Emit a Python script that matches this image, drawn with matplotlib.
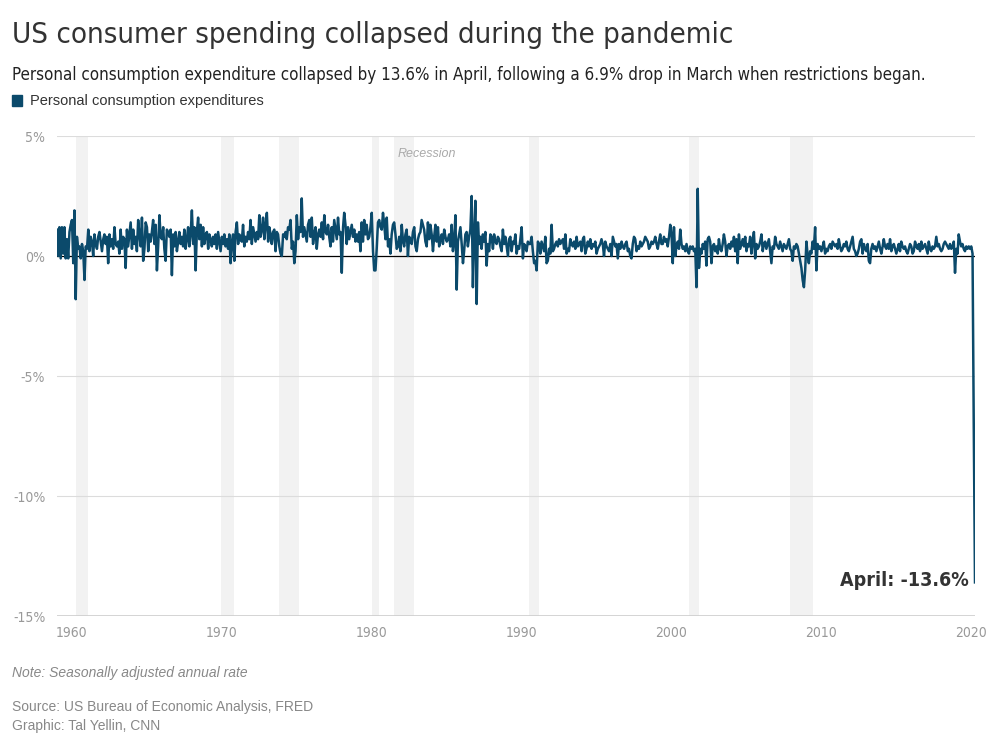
import numpy as np
import pandas as pd
import matplotlib
matplotlib.use('Agg')
import matplotlib.pyplot as plt

# monthly % change in personal consumption expenditures
pce_1959_1969 = [
    1.1, 0.0, 1.2, -0.1, 1.2, 0.1, 1.2, -0.1, 0.7, -0.1, 1.0, 1.3,   # 1959
    1.5, -0.3, 1.9, -1.8, 0.8, 0.3, 0.4, -0.1, 0.5, 0.2, -1.0, 0.4,  # 1960
    0.3, 1.1, 0.2, 0.8, 0.6, 0.0, 0.9, 0.5, 0.3, 0.8, 1.0, 0.6,      # 1961
    0.2, 0.7, 0.9, 0.5, 0.8, -0.3, 0.9, 0.4, 0.7, 0.3, 1.2, 0.5,     # 1962
    0.4, 0.6, 0.1, 1.1, 0.3, 0.8, 0.7, -0.5, 1.1, 0.4, 0.9, 1.4,     # 1963
    0.3, 1.1, 0.5, 0.8, 0.2, 1.5, 0.9, 0.4, 1.6, -0.2, 0.3, 1.4,     # 1964
    1.2, 0.2, 0.9, 0.6, 1.0, 1.5, 0.5, 1.3, -0.6, 0.4, 1.7, 0.8,     # 1965
    0.7, 1.2, 0.3, -0.2, 1.1, 1.0, 0.8, 1.1, -0.8, 0.9, 0.4, 1.0,    # 1966
    0.2, 0.6, 1.0, 0.5, 0.8, 0.4, 1.1, 0.3, 0.7, 1.2, 0.4, 0.9,      # 1967
    1.9, 0.5, 1.2, -0.6, 1.0, 1.6, 0.7, 1.3, 0.4, 1.2, 0.5, 0.9,     # 1968
    1.0, 0.3, 0.9, 0.7, 0.4, 0.8, 0.5, 0.9, 0.3, 1.0, 0.6, 0.2,      # 1969
]
pce_1970_1979 = [
    0.8, 0.5, 0.9, 0.4, 0.7, 0.3, 0.9, -0.3, 0.6, 0.9, -0.2, 1.0,    # 1970
    1.4, 0.5, 0.9, 0.7, 0.6, 1.3, 0.4, 0.8, 0.6, 1.0, 0.7, 1.5,      # 1971
    0.5, 1.2, 0.9, 0.6, 1.0, 0.7, 1.7, 0.8, 1.1, 1.6, 0.7, 1.3,      # 1972
    1.8, 0.6, 1.2, 0.9, 0.5, 1.0, 1.1, 0.2, 1.0, 0.9, 0.4, 0.1,      # 1973
    0.0, 0.9, 0.8, 1.0, 0.7, 1.2, 1.1, 1.5, 0.3, 0.6, -0.3, 0.2,     # 1974
    1.7, 0.7, 1.2, 1.0, 2.4, 0.8, 1.2, 0.9, 0.6, 1.3, 1.5, 0.8,      # 1975
    1.6, 0.5, 0.9, 1.2, 0.3, 0.9, 1.1, 0.8, 1.4, 0.7, 1.7, 1.0,      # 1976
    0.9, 1.3, 0.8, 0.4, 1.2, 0.6, 1.5, 1.1, 0.7, 1.6, 0.9, 1.0,      # 1977
    -0.7, 1.2, 1.8, 1.3, 0.5, 1.2, 0.7, 1.0, 1.3, 0.8, 1.1, 0.6,     # 1978
    0.9, 0.6, 1.0, 0.2, 1.4, 0.6, 1.5, 0.9, 1.3, 0.7, 0.8, 1.2,      # 1979
]
pce_1980_1989 = [
    1.8, 0.2, -0.6, -0.6, 0.3, 1.4, 1.5, 1.2, 1.1, 1.8, 1.3, 0.7,    # 1980
    1.6, 0.4, 0.7, 0.1, 0.9, 1.3, 1.4, 0.9, 0.3, 0.4, 0.8, 0.2,      # 1981
    1.3, 0.6, 0.4, 0.9, 1.1, 0.0, 0.8, 0.7, 0.5, 1.0, 1.2, 0.4,      # 1982
    0.2, 0.7, 0.9, 1.0, 1.5, 1.3, 1.1, 0.6, 0.4, 1.4, 0.7, 1.3,      # 1983
    0.9, 0.2, 0.8, 1.3, 0.6, 1.2, 0.4, 0.7, 0.9, 0.5, 1.1, 0.8,      # 1984
    0.6, 0.7, 0.9, 0.4, 1.3, 0.2, 0.6, 1.7, -1.4, 0.6, 0.9, 1.2,     # 1985
    0.5, -0.3, 0.2, 0.9, 1.0, 0.4, 0.8, 1.1, 2.5, -1.3, 0.9, 2.3,    # 1986
    -2.0, 1.4, 0.5, 0.8, 0.3, 0.9, 0.6, 1.0, -0.4, 0.5, 0.2, 0.9,    # 1987
    0.8, 0.3, 0.9, 0.6, 0.5, 0.8, 0.7, 0.4, 0.2, 1.1, 0.5, 0.8,      # 1988
    0.4, 0.0, 0.7, 0.8, 0.2, 0.6, 0.5, 0.9, 0.1, 0.4, 0.3, 0.7,      # 1989
]
pce_1990_1999 = [
    1.2, -0.1, 0.5, 0.4, 0.2, 0.6, 0.5, 0.5, 0.8, 0.2, -0.3, -0.2,   # 1990
    -0.6, 0.6, 0.5, 0.1, 0.6, 0.4, 0.2, 0.8, -0.3, -0.2, 0.3, 0.1,   # 1991
    1.3, 0.2, 0.3, 0.5, 0.6, 0.4, 0.7, 0.5, 0.6, 0.7, 0.3, 0.9,      # 1992
    0.1, 0.3, 0.2, 0.7, 0.5, 0.4, 0.6, 0.3, 0.8, 0.4, 0.5, 0.6,      # 1993
    0.2, 0.7, 0.8, 0.1, 0.3, 0.6, 0.4, 0.7, 0.3, 0.5, 0.4, 0.6,      # 1994
    0.1, 0.3, 0.4, 0.5, 0.7, 0.5, 0.0, 0.6, 0.4, 0.3, 0.2, 0.5,      # 1995
    0.0, 0.8, 0.6, 0.4, 0.5, -0.1, 0.5, 0.3, 0.6, 0.4, 0.3, 0.5,     # 1996
    0.6, 0.2, 0.3, 0.0, -0.1, 0.5, 0.8, 0.7, 0.2, 0.4, 0.3, 0.6,     # 1997
    0.4, 0.5, 0.6, 0.8, 0.7, 0.6, 0.3, 0.4, 0.6, 0.5, 0.6, 0.8,      # 1998
    0.5, 0.3, 0.6, 0.9, 0.5, 0.5, 0.8, 0.6, 0.7, 0.4, 0.8, 1.3,      # 1999
]
pce_2000_2009 = [
    0.9, -0.3, 1.2, 0.0, 0.4, 0.6, 0.3, 1.1, 0.5, 0.3, 0.4, 0.2,     # 2000
    0.5, 0.2, 0.1, 0.4, 0.3, 0.4, 0.2, 0.3, -1.3, 2.8, -0.5, 0.3,    # 2001
    0.1, 0.5, 0.3, 0.6, -0.4, 0.7, 0.8, 0.6, -0.3, 0.4, 0.5, 0.2,    # 2002
    0.4, 0.1, 0.7, 0.3, 0.2, 0.5, 0.9, 0.6, 0.0, 0.4, 0.5, 0.3,      # 2003
    0.6, 0.4, 0.8, 0.2, 0.7, -0.3, 0.9, 0.3, 0.5, 0.7, 0.4, 0.8,     # 2004
    0.2, 0.5, 0.4, 0.8, 0.1, 0.6, 1.0, -0.1, 0.5, 0.3, 0.4, 0.6,     # 2005
    0.9, 0.2, 0.5, 0.6, 0.3, 0.5, 0.7, 0.2, -0.3, 0.4, 0.3, 0.8,     # 2006
    0.5, 0.4, 0.3, 0.6, 0.4, 0.2, 0.5, 0.4, 0.3, 0.5, 0.7, 0.3,      # 2007
    0.2, -0.2, 0.4, 0.3, 0.5, 0.4, 0.1, -0.2, -0.5, -1.0, -1.3, -0.6,  # 2008
    0.6, 0.0, -0.3, 0.2, 0.1, 0.6, 0.3, 1.2, -0.6, 0.5, 0.3, 0.4,    # 2009
]
pce_2010_2020 = [
    0.2, 0.4, 0.6, 0.1, 0.3, 0.2, 0.4, 0.5, 0.3, 0.6, 0.5, 0.4,      # 2010
    0.5, 0.3, 0.7, 0.4, 0.2, 0.3, 0.5, 0.4, 0.6, 0.3, 0.2, 0.4,      # 2011
    0.6, 0.8, 0.3, 0.2, 0.0, 0.1, 0.3, 0.6, 0.7, 0.1, 0.5, 0.3,      # 2012
    0.2, 0.5, -0.2, -0.3, 0.3, 0.5, 0.3, 0.4, 0.2, 0.4, 0.6, 0.3,    # 2013
    0.1, 0.4, 0.7, 0.4, 0.3, 0.5, 0.3, 0.7, 0.2, 0.4, 0.5, 0.3,      # 2014
    0.1, 0.3, 0.5, 0.2, 0.6, 0.4, 0.3, 0.4, 0.2, 0.1, 0.3, 0.5,      # 2015
    0.4, 0.1, 0.2, 0.6, 0.4, 0.3, 0.5, 0.2, 0.6, 0.3, 0.4, 0.5,      # 2016
    0.3, 0.1, 0.6, 0.3, 0.2, 0.4, 0.3, 0.4, 0.8, 0.4, 0.5, 0.3,      # 2017
    0.2, 0.3, 0.5, 0.6, 0.5, 0.4, 0.3, 0.5, 0.3, 0.4, 0.6, -0.7,     # 2018
    0.3, 0.1, 0.9, 0.6, 0.4, 0.5, 0.3, 0.2, 0.4, 0.3, 0.4, 0.3,      # 2019
    0.4, 0.1, -6.9, -13.6,                                           # 2020
]

recession_starts = ['1960-04', '1969-12', '1973-11', '1980-01', '1981-07',
                    '1990-07', '2001-03', '2007-12']
recession_ends = ['1961-02', '1970-11', '1975-03', '1980-07', '1982-11',
                  '1991-03', '2001-11', '2009-06']

year_ticks = [1960, 1970, 1980, 1990, 2000, 2010, 2020]
pct_ticks = [5, 0, -5, -10, -15]

pce = (pce_1959_1969 + pce_1970_1979 + pce_1980_1989 +
       pce_1990_1999 + pce_2000_2009 + pce_2010_2020)
months = pd.date_range('1959-01-01', periods=len(pce), freq='MS')

COND = dict(family='DejaVu Sans', fontstretch='condensed')
LINE_COLOR = '#0b4a6b'

fig = plt.figure(figsize=(9.91, 7.35), dpi=100)
ax = fig.add_axes([57 / 991, 1 - 616 / 735, (975 - 57) / 991, 480 / 735])

for s, e in zip(recession_starts, recession_ends):
    ax.axvspan(pd.Timestamp(s), pd.Timestamp(e), color='#f2f2f2', lw=0, zorder=0)

for t in pct_ticks:
    if t == 0:
        ax.axhline(0, color='black', lw=0.9, zorder=2)
    elif t == -15:
        ax.axhline(t, color='#d0d0d0', lw=2.0, zorder=1)
    else:
        ax.axhline(t, color='#dcdcdc', lw=0.8, zorder=1)

ax.plot(months, pce, color=LINE_COLOR, lw=1.8, zorder=3)

ax.set_xlim(months[0], months[-1])
ax.set_ylim(-15, 5)
for sp in ax.spines.values():
    sp.set_visible(False)
ax.set_xticks([pd.Timestamp(f'{y}-01-01') for y in year_ticks])
ax.set_xticklabels([str(y) for y in year_ticks], color='#999999', fontsize=10, **COND)
ax.set_yticks(pct_ticks)
ax.set_yticklabels([f'{t}%' for t in pct_ticks], color='#999999', fontsize=10, **COND)
ax.tick_params(axis='y', length=0, pad=8.5)
ax.tick_params(axis='x', length=0, pad=7.5)

ax.text(pd.Timestamp('1981-10-01'), 4.25, 'Recession', color='#aaaaaa',
        fontsize=9, style='italic', family='Liberation Sans', va='center')
ax.text(pd.Timestamp('2019-11-01'), -13.5, 'April: -13.6%', color='#333333',
        fontsize=14, fontweight='bold', ha='right', va='center', **COND)

fig.text(12 / 991, 1 - 35 / 735, 'US consumer spending collapsed during the pandemic',
         fontsize=21.1, color='#333333', va='center', **COND)
fig.text(12 / 991, 1 - 75 / 735,
         'Personal consumption expenditure collapsed by 13.6% in April, following a 6.9% drop in March when restrictions began.',
         fontsize=12.2, color='#222222', va='center', **COND)
fig.patches.append(plt.Rectangle((12 / 991, 1 - 106 / 735), 10 / 991, 11 / 735,
                                 transform=fig.transFigure, color=LINE_COLOR))
fig.text(30 / 991, 1 - 101 / 735, 'Personal consumption expenditures',
         fontsize=10.5, color='#333333', va='center', family='Liberation Sans')

fig.text(12 / 991, 1 - 673 / 735, 'Note: Seasonally adjusted annual rate',
         fontsize=10, color='#888888', style='italic', va='center', family='Liberation Sans')
fig.text(12 / 991, 1 - 707 / 735, 'Source: US Bureau of Economic Analysis, FRED',
         fontsize=10, color='#888888', va='center', family='Liberation Sans')
fig.text(12 / 991, 1 - 726 / 735, 'Graphic: Tal Yellin, CNN',
         fontsize=10, color='#888888', va='center', family='Liberation Sans')

fig.savefig('out.png', dpi=100, facecolor='white')
